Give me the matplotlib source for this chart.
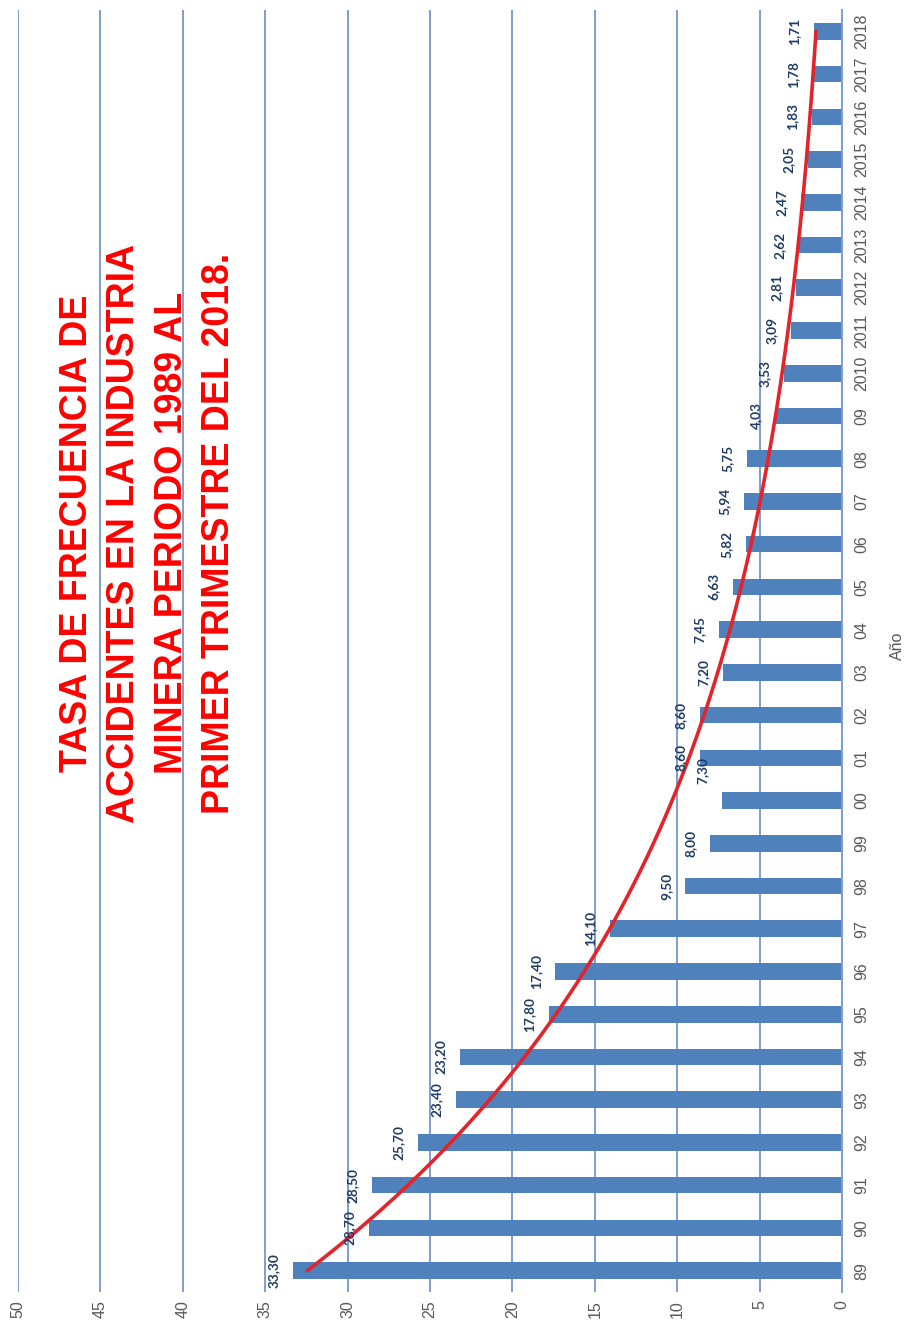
import numpy as np
import matplotlib
matplotlib.use("Agg")
import matplotlib.pyplot as plt

# Accident frequency rate in the mining industry, 1989 to Q1 2018
years = ["89", "90", "91", "92", "93", "94", "95", "96", "97", "98", "99",
         "00", "01", "02", "03", "04", "05", "06", "07", "08", "09",
         "2010", "2011", "2012", "2013", "2014", "2015", "2016", "2017", "2018"]
rates = [33.30, 28.70, 28.50, 25.70, 23.40, 23.20, 17.80, 17.40, 14.10, 9.50,
         8.00, 7.30, 8.60, 8.60, 7.20, 7.45, 6.63, 5.82, 5.94, 5.75, 4.03,
         3.53, 3.09, 2.81, 2.62, 2.47, 2.05, 1.83, 1.78, 1.71]
value_ticks = [0, 5, 10, 15, 20, 25, 30, 35, 40, 45, 50]

title_lines = ["TASA DE FRECUENCIA DE",
               "ACCIDENTES EN LA INDUSTRIA",
               "MINERA PERIODO 1989 AL",
               "PRIMER TRIMESTRE DEL 2018."]

# label nudges (points, along the year axis) for crowded labels
label_shift = {"00": 22}

W, H = 905, 1323
fig = plt.figure(figsize=(W / 100, H / 100), dpi=100)
fig.patch.set_facecolor("white")
ax = fig.add_axes([18 / W, 31 / H, 824 / W, 1282 / H])

idx = np.arange(len(years))
bar_color = "#4f81bd"
grid_color = "#7f9dd0"

ax.barh(idx, rates, height=0.39, color=bar_color, zorder=2)

# exponential trend line fitted to the series
coef = np.polyfit(idx, np.log(rates), 1)
xt = np.linspace(idx[0], idx[-1], 200)
ax.plot(np.exp(np.polyval(coef, xt)), xt, color="#e3242b", lw=2.6,
        solid_capstyle="round", zorder=4)

ax.set_xlim(50, 0)
ax.set_ylim(-0.5, len(years) - 0.5)

ax.set_xticks(value_ticks)
ax.set_xticklabels([str(t) for t in value_ticks], rotation=90,
                   fontsize=11.5, color="#595959", family="Liberation Sans")
ax.tick_params(axis="x", length=0, pad=6)

ax.yaxis.tick_right()
ax.set_yticks(idx)
ax.set_yticklabels(years, rotation=90, va="center", fontsize=11.5,
                   color="#595959", family="Liberation Sans")
ax.tick_params(axis="y", length=0, pad=9)

ax.grid(axis="x", color=grid_color, lw=1.4, zorder=0)
ax.set_axisbelow(True)
for side in ["top", "bottom", "left"]:
    ax.spines[side].set_visible(False)
ax.spines["right"].set_color(grid_color)
ax.spines["right"].set_linewidth(1.4)

# value labels beyond each bar end
for i, (yr, v) in enumerate(zip(years, rates)):
    ax.annotate(f"{v:.2f}".replace(".", ","), xy=(v, i),
                xytext=(-14, label_shift.get(yr, 0)), textcoords="offset points",
                rotation=90, ha="center", va="center", fontsize=9.8,
                fontweight="bold", color="#1f3b64", family="Lato", zorder=5)

fig.text(897 / W, 1 - 646 / H, "Año", rotation=90, ha="center", va="center",
         fontsize=11.5, color="#595959", family="Liberation Sans")

fig.text(148 / W, 1 - 533 / H, "\n".join(title_lines), rotation=90,
         ha="center", va="center", multialignment="center",
         fontsize=27, fontweight="bold", color="#ff0000",
         family="Liberation Sans", linespacing=1.41)

fig.savefig("out.png", dpi=100, facecolor="white")
